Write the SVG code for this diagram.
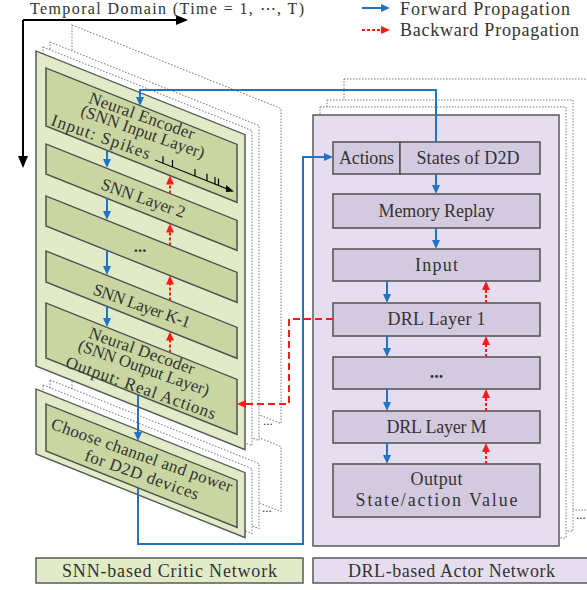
<svg xmlns="http://www.w3.org/2000/svg" width="587" height="590" viewBox="0 0 587 590">
  <style>
    .txt { font-family: "Liberation Serif", "Times New Roman", serif; fill: #333333; }
    .t16 { font-size: 16px; }
    .t17 { font-size: 17px; }
    .t18 { font-size: 18px; }
    .ghost { fill: #ffffff; stroke: #7a7a7a; stroke-width: 1; stroke-dasharray: 1.5 1.5; }
    .gPanel { fill: #e2ebc7; stroke: #5a5a5a; stroke-width: 1.5; }
    .gBox { fill: #cad6a2; stroke: #4f4f4f; stroke-width: 1.5; }
    .pPanel { fill: #e6ddee; stroke: #5a5a5a; stroke-width: 1.5; }
    .pBox { fill: #d4cae0; stroke: #4f4f4f; stroke-width: 1.5; }
    .fwd { fill: none; stroke: #1f74c4; stroke-width: 2; marker-end: url(#ahBlue); }
    .bwd { fill: none; stroke: #ff1a1a; stroke-width: 2; stroke-dasharray: 3 2; marker-end: url(#ahRed); }
    .bwdLong { fill: none; stroke: #ff1a1a; stroke-width: 2; stroke-dasharray: 7 4; marker-end: url(#ahRed); }
    .axis { fill: none; stroke: #000; stroke-width: 2; marker-end: url(#ahBlack); }
  </style>
  <defs>
    <marker id="ahBlue" markerUnits="userSpaceOnUse" markerWidth="10" markerHeight="10" refX="7" refY="5" orient="auto">
      <path d="M0,1 L9,5 L0,9 z" fill="#1f74c4"/>
    </marker>
    <marker id="ahRed" markerUnits="userSpaceOnUse" markerWidth="10" markerHeight="10" refX="7" refY="5" orient="auto">
      <path d="M0,1 L9,5 L0,9 z" fill="#ff1a1a"/>
    </marker>
    <marker id="ahBlack" markerUnits="userSpaceOnUse" markerWidth="13" markerHeight="11" refX="10" refY="5" orient="auto">
      <path d="M0,0 L12,5 L0,10 z" fill="#000"/>
    </marker>
  </defs>

  <!-- temporal axis -->
  <g id="axes">
    <path class="axis" d="M23,20 H186"/>
    <path class="axis" d="M23,20 V166"/>
    <text class="txt t16" x="30" y="14" textLength="274" lengthAdjust="spacing">Temporal Domain (Time = 1, ⋯, T)</text>
  </g>

  <!-- legend -->
  <g id="legend">
    <path class="fwd" d="M362,8 H388"/>
    <path class="bwd" d="M362,30 H388"/>
    <text class="txt t18" x="400" y="15" textLength="170" lengthAdjust="spacing">Forward Propagation</text>
    <text class="txt t18" x="400" y="36" textLength="179" lengthAdjust="spacing">Backward Propagation</text>
  </g>

  <!-- SNN critic: stacked time-step panels drawn in a sheared frame -->
  <g id="snn-stack" transform="matrix(1,0.4,0,1,0,0)">
    <rect class="ghost" x="72" y="334.2" width="209" height="65"/>
    <rect class="ghost" x="50" y="360" width="209" height="65"/>
    <rect class="ghost" x="43" y="367.8" width="209" height="65"/>
    <rect class="ghost" x="72" y="-3.8" width="209" height="315"/>
    <rect class="ghost" x="50" y="22" width="209" height="315"/>
    <rect class="ghost" x="43" y="29.8" width="209" height="315"/>
    <rect class="gPanel" x="36" y="36.6" width="209" height="315"/>
    <rect class="gPanel" x="36" y="374.6" width="209" height="65"/>
  </g>

  <g id="encoder">
    <g transform="matrix(1,0.4,0,1,0,0)">
      <rect class="gBox" x="46" y="49.6" width="191" height="58"/>
      <!-- spike train -->
      <g stroke="#000" stroke-width="1.2" fill="none">
        <path d="M155,98 H227"/>
        <path d="M163,98 V91 M172.5,98 V91 M195,98 V91 M207,98 V91 M215,98 V91 M218.5,98 V91"/>
      </g>
      <path d="M226,94.5 L234,98 L226,101.5 z" fill="#000"/>
    </g>
    <text class="txt t17" text-anchor="middle" transform="rotate(19.5 140 121)" x="140" y="121" textLength="111" lengthAdjust="spacing">Neural Encoder</text>
    <text class="txt t17" text-anchor="middle" transform="rotate(19.5 141 137)" x="141" y="137" textLength="130" lengthAdjust="spacing">(SNN Input Layer)</text>
    <text class="txt t17" text-anchor="middle" transform="rotate(19.5 99 142)" x="99" y="142" textLength="104" lengthAdjust="spacing">Input: Spikes</text>
  </g>

  <g id="snn-layer-2">
    <rect class="gBox" transform="matrix(1,0.4,0,1,0,0)" x="46" y="125.6" width="191" height="30"/>
    <text class="txt t17" text-anchor="middle" transform="rotate(19.5 141.5 203.5)" x="141.5" y="203.5" textLength="88" lengthAdjust="spacing">SNN Layer 2</text>
  </g>

  <g id="snn-layer-dots">
    <rect class="gBox" transform="matrix(1,0.4,0,1,0,0)" x="46" y="177.6" width="191" height="30"/>
    <text class="txt t17" text-anchor="middle" x="140" y="252" font-weight="bold">...</text>
  </g>

  <g id="snn-layer-k1">
    <rect class="gBox" transform="matrix(1,0.4,0,1,0,0)" x="46" y="232.6" width="191" height="31"/>
    <text class="txt t17" text-anchor="middle" transform="rotate(19.5 140 311)" x="140" y="311" textLength="102" lengthAdjust="spacing">SNN Layer K-1</text>
  </g>

  <g id="decoder">
    <rect class="gBox" transform="matrix(1,0.4,0,1,0,0)" x="46" y="284.6" width="191" height="55"/>
    <text class="txt t17" text-anchor="middle" transform="rotate(19.5 140 356)" x="140" y="356" textLength="111" lengthAdjust="spacing">Neural Decoder</text>
    <text class="txt t17" text-anchor="middle" transform="rotate(19.5 142 373)" x="142" y="373" textLength="138" lengthAdjust="spacing">(SNN Output Layer)</text>
    <text class="txt t17" text-anchor="middle" transform="rotate(19.5 139 393)" x="139" y="393" textLength="158" lengthAdjust="spacing">Output: Real Actions</text>
  </g>

  <g id="choose-action">
    <rect class="gBox" transform="matrix(1,0.4,0,1,0,0)" x="46" y="385.6" width="191" height="47"/>
    <text class="txt t17" text-anchor="middle" transform="rotate(19.5 140 460.5)" x="140" y="460.5" textLength="191" lengthAdjust="spacing">Choose channel and power</text>
    <text class="txt t17" text-anchor="middle" transform="rotate(19.5 140 480)" x="140" y="480" textLength="120" lengthAdjust="spacing">for D2D devices</text>
  </g>

  <g id="snn-more" class="txt" font-size="13">
    <text x="263" y="425">...</text>
    <text x="262" y="512">...</text>
  </g>

  <!-- DRL actor: stacked panels -->
  <g id="drl-stack">
    <rect class="ghost" x="344" y="79" width="246" height="431"/>
    <rect class="ghost" x="327" y="100" width="246" height="431"/>
    <rect class="ghost" x="320" y="107" width="246" height="431"/>
    <rect class="pPanel" x="313" y="115" width="246" height="431"/>
    <text class="txt" font-size="13" x="576" y="519">...</text>
  </g>

  <g id="actions">
    <rect class="pBox" x="333" y="142" width="67" height="32"/>
    <text class="txt t18" text-anchor="middle" x="366.5" y="164" textLength="55" lengthAdjust="spacing">Actions</text>
  </g>
  <g id="states">
    <rect class="pBox" x="400" y="142" width="140" height="32"/>
    <text class="txt t18" text-anchor="middle" x="468" y="164" textLength="103" lengthAdjust="spacing">States of D2D</text>
  </g>
  <g id="memory-replay">
    <rect class="pBox" x="333" y="194" width="207" height="34"/>
    <text class="txt t18" text-anchor="middle" x="436.5" y="217" textLength="116" lengthAdjust="spacing">Memory Replay</text>
  </g>
  <g id="input">
    <rect class="pBox" x="333" y="249" width="207" height="32"/>
    <text class="txt t18" text-anchor="middle" x="436.5" y="271" textLength="43" lengthAdjust="spacing">Input</text>
  </g>
  <g id="drl-layer-1">
    <rect class="pBox" x="333" y="303" width="207" height="33"/>
    <text class="txt t18" text-anchor="middle" x="436.5" y="325" textLength="98" lengthAdjust="spacing">DRL Layer 1</text>
  </g>
  <g id="drl-layer-dots">
    <rect class="pBox" x="333" y="357" width="207" height="32"/>
    <text class="txt t18" text-anchor="middle" x="436.5" y="378" font-weight="bold">...</text>
  </g>
  <g id="drl-layer-m">
    <rect class="pBox" x="333" y="411" width="207" height="32"/>
    <text class="txt t18" text-anchor="middle" x="436.5" y="433" textLength="100" lengthAdjust="spacing">DRL Layer M</text>
  </g>
  <g id="output">
    <rect class="pBox" x="333" y="464" width="207" height="53"/>
    <text class="txt t18" text-anchor="middle" x="436.5" y="485" textLength="52" lengthAdjust="spacing">Output</text>
    <text class="txt t18" text-anchor="middle" x="436.5" y="506" textLength="162" lengthAdjust="spacing">State/action Value</text>
  </g>

  <!-- captions -->
  <g id="caption-critic">
    <rect x="36" y="558" width="267" height="25" fill="#e2ebc7" stroke="#5a5a5a" stroke-width="1.5"/>
    <text class="txt t18" text-anchor="middle" x="169.5" y="577" textLength="215" lengthAdjust="spacing">SNN-based Critic Network</text>
  </g>
  <g id="caption-actor">
    <rect x="313" y="558" width="290" height="25" fill="#e6ddee" stroke="#5a5a5a" stroke-width="1.5"/>
    <text class="txt t18" text-anchor="middle" x="451.5" y="577" textLength="207" lengthAdjust="spacing">DRL-based Actor Network</text>
  </g>

  <!-- connectors -->
  <g id="connectors">
    <!-- forward, SNN column -->
    <path class="fwd" d="M107,150 V166"/>
    <path class="fwd" d="M107,198 V218"/>
    <path class="fwd" d="M107,250 V273"/>
    <path class="fwd" d="M107,306 V325"/>
    <path class="fwd" d="M138,395 V439"/>
    <!-- states feed the encoder -->
    <path class="fwd" d="M436,142 V90 H140 V104"/>
    <!-- chosen actions fed back to the actor -->
    <path class="fwd" d="M138,488 V544 H303 V157 H331"/>
    <!-- forward, DRL column -->
    <path class="fwd" d="M436,174 V192"/>
    <path class="fwd" d="M436,228 V247"/>
    <path class="fwd" d="M387,281 V301"/>
    <path class="fwd" d="M387,336 V355"/>
    <path class="fwd" d="M387,389 V409"/>
    <path class="fwd" d="M387,443 V462"/>
    <!-- backward, SNN column -->
    <path class="bwd" d="M170,193.6 V177.6"/>
    <path class="bwd" d="M170,245.6 V225.6"/>
    <path class="bwd" d="M170,300.6 V277.6"/>
    <path class="bwd" d="M170,352.6 V333.6"/>
    <!-- backward, DRL column -->
    <path class="bwd" d="M486,303 V283"/>
    <path class="bwd" d="M486,357 V338"/>
    <path class="bwd" d="M486,411 V391"/>
    <path class="bwd" d="M486,464 V445"/>
    <!-- gradient from the actor to the decoder -->
    <path class="bwdLong" d="M333,319 H289 V404 H239"/>
  </g>
</svg>
